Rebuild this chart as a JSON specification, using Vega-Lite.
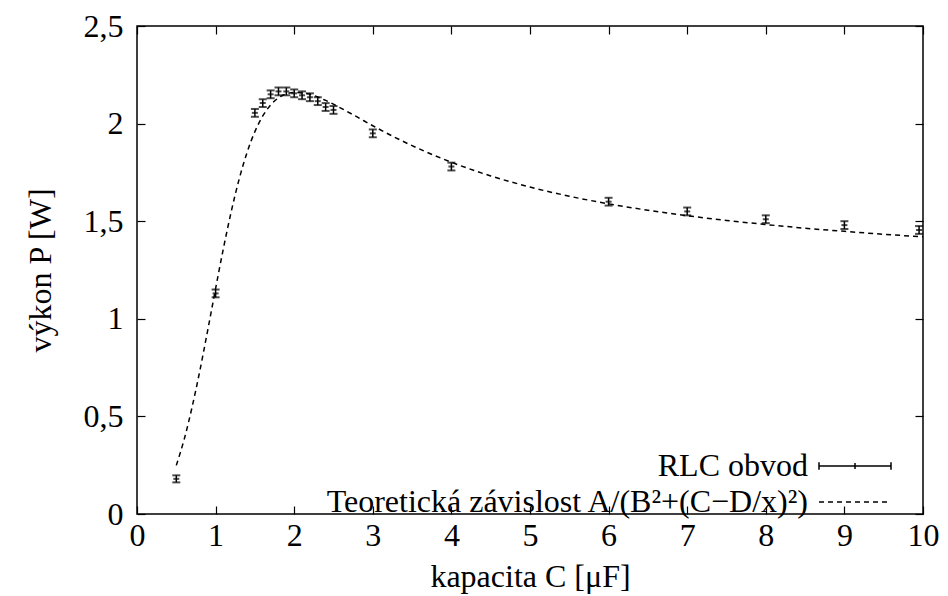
{
  "$schema": "https://vega.github.io/schema/vega-lite/v6.json",
  "width": 786,
  "height": 488,
  "autosize": {"type": "none"},
  "padding": {"left": 137, "top": 26, "right": 25, "bottom": 82},
  "background": "white",
  "config": {
    "view": {"stroke": "black", "strokeWidth": 1.5},
    "font": "Liberation Serif, DejaVu Serif, serif",
    "axis": {
      "domain": false,
      "grid": false,
      "labelFlush": false,
      "labelOverlap": false,
      "tickColor": "black",
      "tickWidth": 1.2,
      "tickSize": -8,
      "labelFont": "Liberation Serif, DejaVu Serif, serif",
      "labelFontSize": 32,
      "labelColor": "black",
      "titleFont": "Liberation Serif, DejaVu Serif, serif",
      "titleFontSize": 32,
      "titleFontWeight": "normal",
      "titleColor": "black"
    }
  },
  "datasets": {
    "mereni": [
      {"C": 0.5, "P": 0.18, "err": 0.018},
      {"C": 1.0, "P": 1.13, "err": 0.02},
      {"C": 1.5, "P": 2.055, "err": 0.02},
      {"C": 1.6, "P": 2.105, "err": 0.02},
      {"C": 1.7, "P": 2.15, "err": 0.02},
      {"C": 1.8, "P": 2.165, "err": 0.02},
      {"C": 1.9, "P": 2.165, "err": 0.02},
      {"C": 2.0, "P": 2.155, "err": 0.02},
      {"C": 2.1, "P": 2.145, "err": 0.02},
      {"C": 2.2, "P": 2.135, "err": 0.02},
      {"C": 2.3, "P": 2.115, "err": 0.02},
      {"C": 2.4, "P": 2.085, "err": 0.02},
      {"C": 2.5, "P": 2.07, "err": 0.02},
      {"C": 3.0, "P": 1.95, "err": 0.02},
      {"C": 4.0, "P": 1.78, "err": 0.02},
      {"C": 6.0, "P": 1.60, "err": 0.02},
      {"C": 7.0, "P": 1.55, "err": 0.02},
      {"C": 8.0, "P": 1.51, "err": 0.02},
      {"C": 9.0, "P": 1.48, "err": 0.02},
      {"C": 9.95, "P": 1.455, "err": 0.02}
    ],
    "teorie": [
      {"C": 0.5, "P": 0.249, "serie": "Teoretická závislost A/(B²+(C−D/x)²)"},
      {"C": 0.6, "P": 0.382, "serie": "Teoretická závislost A/(B²+(C−D/x)²)"},
      {"C": 0.7, "P": 0.546, "serie": "Teoretická závislost A/(B²+(C−D/x)²)"},
      {"C": 0.8, "P": 0.735, "serie": "Teoretická závislost A/(B²+(C−D/x)²)"},
      {"C": 0.9, "P": 0.942, "serie": "Teoretická závislost A/(B²+(C−D/x)²)"},
      {"C": 1.0, "P": 1.155, "serie": "Teoretická závislost A/(B²+(C−D/x)²)"},
      {"C": 1.1, "P": 1.362, "serie": "Teoretická závislost A/(B²+(C−D/x)²)"},
      {"C": 1.2, "P": 1.551, "serie": "Teoretická závislost A/(B²+(C−D/x)²)"},
      {"C": 1.3, "P": 1.716, "serie": "Teoretická závislost A/(B²+(C−D/x)²)"},
      {"C": 1.4, "P": 1.852, "serie": "Teoretická závislost A/(B²+(C−D/x)²)"},
      {"C": 1.5, "P": 1.959, "serie": "Teoretická závislost A/(B²+(C−D/x)²)"},
      {"C": 1.6, "P": 2.039, "serie": "Teoretická závislost A/(B²+(C−D/x)²)"},
      {"C": 1.7, "P": 2.095, "serie": "Teoretická závislost A/(B²+(C−D/x)²)"},
      {"C": 1.8, "P": 2.132, "serie": "Teoretická závislost A/(B²+(C−D/x)²)"},
      {"C": 1.9, "P": 2.152, "serie": "Teoretická závislost A/(B²+(C−D/x)²)"},
      {"C": 2.0, "P": 2.16, "serie": "Teoretická závislost A/(B²+(C−D/x)²)"},
      {"C": 2.2, "P": 2.15, "serie": "Teoretická závislost A/(B²+(C−D/x)²)"},
      {"C": 2.4, "P": 2.119, "serie": "Teoretická závislost A/(B²+(C−D/x)²)"},
      {"C": 2.6, "P": 2.078, "serie": "Teoretická závislost A/(B²+(C−D/x)²)"},
      {"C": 2.8, "P": 2.034, "serie": "Teoretická závislost A/(B²+(C−D/x)²)"},
      {"C": 3.0, "P": 1.989, "serie": "Teoretická závislost A/(B²+(C−D/x)²)"},
      {"C": 3.5, "P": 1.887, "serie": "Teoretická závislost A/(B²+(C−D/x)²)"},
      {"C": 4.0, "P": 1.802, "serie": "Teoretická závislost A/(B²+(C−D/x)²)"},
      {"C": 4.5, "P": 1.732, "serie": "Teoretická závislost A/(B²+(C−D/x)²)"},
      {"C": 5.0, "P": 1.675, "serie": "Teoretická závislost A/(B²+(C−D/x)²)"},
      {"C": 5.5, "P": 1.628, "serie": "Teoretická závislost A/(B²+(C−D/x)²)"},
      {"C": 6.0, "P": 1.589, "serie": "Teoretická závislost A/(B²+(C−D/x)²)"},
      {"C": 6.5, "P": 1.556, "serie": "Teoretická závislost A/(B²+(C−D/x)²)"},
      {"C": 7.0, "P": 1.528, "serie": "Teoretická závislost A/(B²+(C−D/x)²)"},
      {"C": 7.5, "P": 1.504, "serie": "Teoretická závislost A/(B²+(C−D/x)²)"},
      {"C": 8.0, "P": 1.483, "serie": "Teoretická závislost A/(B²+(C−D/x)²)"},
      {"C": 8.5, "P": 1.464, "serie": "Teoretická závislost A/(B²+(C−D/x)²)"},
      {"C": 9.0, "P": 1.448, "serie": "Teoretická závislost A/(B²+(C−D/x)²)"},
      {"C": 9.5, "P": 1.433, "serie": "Teoretická závislost A/(B²+(C−D/x)²)"},
      {"C": 10.0, "P": 1.42, "serie": "Teoretická závislost A/(B²+(C−D/x)²)"}
    ]
  },
  "layer": [
    {
      "data": {"name": "teorie"},
      "mark": {"type": "line", "interpolate": "monotone", "strokeWidth": 1.5, "color": "black"},
      "encoding": {
        "x": {
          "field": "C", "type": "quantitative",
          "scale": {"domain": [0, 10], "nice": false, "zero": false},
          "axis": {"orient": "bottom", "values": [0, 1, 2, 3, 4, 5, 6, 7, 8, 9, 10], "title": "kapacita C [μF]", "labelPadding": 14, "titlePadding": 10}
        },
        "y": {
          "field": "P", "type": "quantitative",
          "scale": {"domain": [0, 2.5], "nice": false},
          "axis": {"orient": "left", "values": [0, 0.5, 1, 1.5, 2, 2.5], "labelExpr": "replace(format(datum.value, '~g'), '.', ',')", "title": "výkon P [W]", "labelPadding": 22, "titlePadding": 26}
        },
        "strokeDash": {
          "field": "serie", "type": "nominal",
          "scale": {"domain": ["RLC obvod", "Teoretická závislost A/(B²+(C−D/x)²)"], "range": [[1, 0], [5, 4]]},
          "legend": {
            "orient": "none",
            "legendX": 702,
            "legendY": 424,
            "title": null,
            "padding": 0,
            "rowPadding": 4,
            "symbolSize": 900,
            "symbolStrokeWidth": 1.5,
            "symbolStrokeColor": "black",
            "labelFont": "Liberation Serif, DejaVu Serif, serif",
            "labelFontSize": 32,
            "labelColor": "black",
            "labelLimit": 800,
            "encode": {
              "symbols": {"update": {"shape": {"signal": "datum.value === 'RLC obvod' ? 'M-2.4,0H2.4M-2.4,-0.25V0.25M2.4,-0.25V0.25M0,-0.2V0.2' : 'M-2.4,0H2.4'"}}},
              "labels": {"update": {"x": {"value": -31}, "align": {"value": "right"}}}
            }
          }
        }
      }
    },
    {
      "data": {"name": "mereni"},
      "mark": {"type": "errorbar", "ticks": {"size": 8, "thickness": 2}, "thickness": 1.5, "color": "black"},
      "encoding": {
        "x": {"field": "C", "type": "quantitative", "axis": null},
        "y": {"field": "P", "type": "quantitative", "axis": null},
        "yError": {"field": "err"}
      }
    },
    {
      "data": {"name": "mereni"},
      "mark": {"type": "tick", "orient": "horizontal", "size": 6, "thickness": 2, "color": "black"},
      "encoding": {
        "x": {"field": "C", "type": "quantitative", "axis": {"orient": "top", "values": [0, 1, 2, 3, 4, 5, 6, 7, 8, 9, 10], "labels": false, "title": null}},
        "y": {"field": "P", "type": "quantitative", "axis": {"orient": "right", "values": [0, 0.5, 1, 1.5, 2, 2.5], "labels": false, "title": null}}
      }
    }
  ]
}
